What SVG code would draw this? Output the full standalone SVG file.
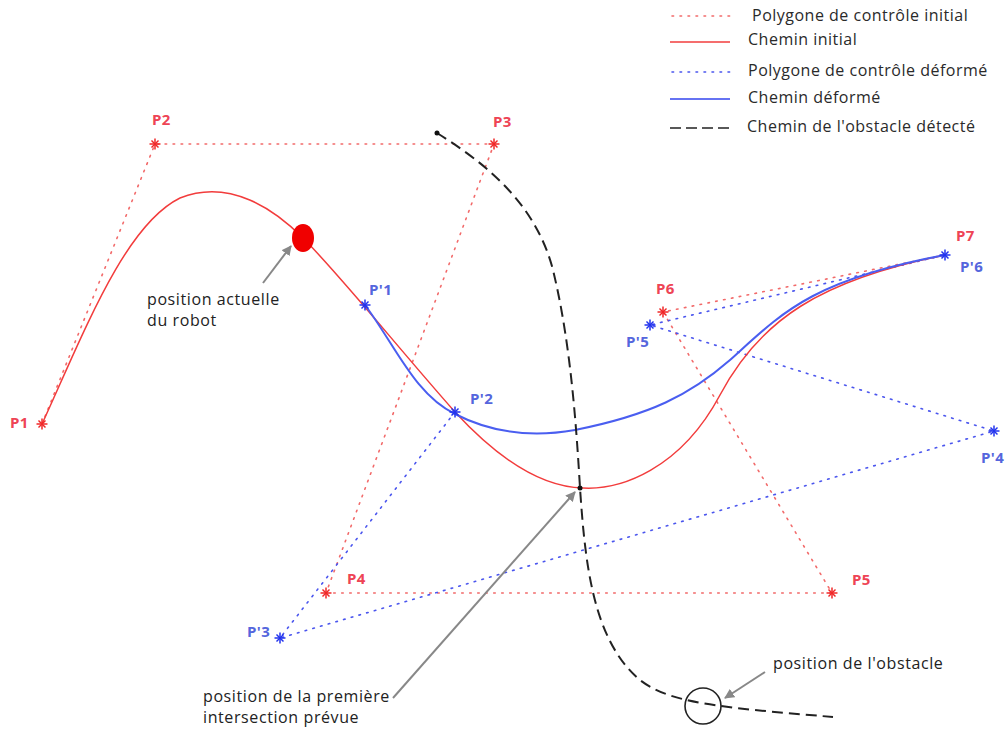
<svg xmlns="http://www.w3.org/2000/svg" width="1006" height="729" viewBox="0 0 1006 729">
<style>
text{font-family:"Open Sans","Liberation Sans",sans-serif}
.lg{font-size:16px;letter-spacing:0.5px;fill:#2a2a2a}
.ann{font-size:16px;letter-spacing:0.6px;fill:#222}
.lr{font-size:15px;font-weight:bold;letter-spacing:0.4px;fill:#ee4455}
.lb{font-size:15px;font-weight:bold;letter-spacing:0.4px;fill:#5566dd}
.pr{fill:none;stroke:#f26a6a;stroke-width:1.6;stroke-dasharray:1.6 6.4;stroke-linecap:round}
.pb{fill:none;stroke:#4a55ee;stroke-width:1.6;stroke-dasharray:1.6 6.4;stroke-linecap:round}
.cr{fill:none;stroke:#f23c3c;stroke-width:1.5}
.cb{fill:none;stroke:#4a5ef0;stroke-width:2}
.ob{fill:none;stroke:#222;stroke-width:2;stroke-dasharray:11 6}
.ar{fill:none;stroke:#888;stroke-width:2}
</style>
<defs>
<marker id="ah" viewBox="0 0 10 10" refX="9" refY="5" markerWidth="5" markerHeight="5" orient="auto" markerUnits="strokeWidth">
<path d="M0,0 L10,5 L0,10 z" fill="#888"/>
</marker>
<g id="sr" stroke="#f02828" stroke-width="1.5"><line x1="-5.5" y1="0" x2="5.5" y2="0"/><line x1="0" y1="-5.5" x2="0" y2="5.5"/><line x1="-3.5" y1="-3.5" x2="3.5" y2="3.5"/><line x1="-3.5" y1="3.5" x2="3.5" y2="-3.5"/></g>
<g id="sb" stroke="#2233ee" stroke-width="1.5"><line x1="-5.5" y1="0" x2="5.5" y2="0"/><line x1="0" y1="-5.5" x2="0" y2="5.5"/><line x1="-3.5" y1="-3.5" x2="3.5" y2="3.5"/><line x1="-3.5" y1="3.5" x2="3.5" y2="-3.5"/></g>
</defs>
<rect width="1006" height="729" fill="#fff"/>

<g id="legend">
<line x1="672" y1="16" x2="730" y2="16" class="pr"/>
<text x="752" y="21" class="lg">Polygone de contrôle initial</text>
<line x1="670" y1="42" x2="730" y2="42" stroke="#f23c3c" stroke-width="1.6"/>
<text x="748" y="45" class="lg">Chemin initial</text>
<line x1="672" y1="72" x2="730" y2="72" class="pb"/>
<text x="748" y="76" class="lg">Polygone de contrôle déformé</text>
<line x1="670" y1="99" x2="730" y2="99" stroke="#3344ee" stroke-width="1.6"/>
<text x="748" y="103" class="lg">Chemin déformé</text>
<line x1="670" y1="128" x2="730" y2="128" stroke="#222" stroke-width="1.6" stroke-dasharray="11 5"/>
<text x="747" y="132" class="lg">Chemin de l'obstacle détecté</text>
</g>

<g id="connectors">
<polyline class="pr" points="42,424 155,144 494,144 326,593 832,593 663,312 945,255"/>
<polyline class="pb" points="455,412 280,638 994,431 650,325 945,255"/>
<path class="cr" d="M42,424 C85,330 125,225 180,198 C230,178 275,210 303,238 C340,275 400,350 455,412 C490,450 535,487 583,488 C620,490 680,470 720,395 C760,320 820,280 945,255"/>
<path class="cb" d="M365,305 C395,345 415,395 455,414 C490,432 530,438 575,430 C650,415 690,395 730,360 C780,315 810,280 945,255"/>
<path class="ob" d="M437,133 C480,160 535,200 553,270 C570,340 576,420 580,488 C585,560 592,640 640,680 C670,703 715,707 833,717"/>
<circle cx="437" cy="133" r="2.5" fill="#111"/>
<circle cx="580" cy="488" r="2.5" fill="#111"/>
<line class="ar" x1="263" y1="283" x2="291" y2="246" marker-end="url(#ah)"/>
<line class="ar" x1="393" y1="698" x2="575" y2="492" marker-end="url(#ah)"/>
<line class="ar" x1="765" y1="672" x2="725" y2="698" marker-end="url(#ah)"/>
</g>

<g id="robot"><ellipse cx="303" cy="238" rx="11" ry="14" fill="#f00000"/></g>
<g id="obstacle"><circle cx="703" cy="706" r="18" fill="none" stroke="#222" stroke-width="1.6"/></g>

<g id="P1"><use href="#sr" x="42" y="424"/><text x="10" y="428" class="lr">P1</text></g>
<g id="P2"><use href="#sr" x="155" y="144"/><text x="152" y="125" class="lr">P2</text></g>
<g id="P3"><use href="#sr" x="494" y="144"/><text x="493" y="127" class="lr">P3</text></g>
<g id="P4"><use href="#sr" x="326" y="593"/><text x="347" y="584" class="lr">P4</text></g>
<g id="P5"><use href="#sr" x="832" y="593"/><text x="852" y="585" class="lr">P5</text></g>
<g id="P6"><use href="#sr" x="663" y="312"/><text x="656" y="294" class="lr">P6</text></g>
<g id="P7"><text x="956" y="241" class="lr">P7</text></g>
<g id="Pp1"><use href="#sb" x="365" y="305"/><text x="369" y="295" class="lb">P'1</text></g>
<g id="Pp2"><use href="#sb" x="455" y="412"/><text x="470" y="404" class="lb">P'2</text></g>
<g id="Pp3"><use href="#sb" x="280" y="638"/><text x="247" y="637" class="lb">P'3</text></g>
<g id="Pp4"><use href="#sb" x="994" y="431"/><text x="981" y="463" class="lb">P'4</text></g>
<g id="Pp5"><use href="#sb" x="650" y="325"/><text x="626" y="347" class="lb">P'5</text></g>
<g id="Pp6"><use href="#sb" x="945" y="255"/><text x="960" y="272" class="lb">P'6</text></g>

<g id="labels">
<text x="147" y="305" class="ann">position actuelle</text>
<text x="147" y="326" class="ann">du robot</text>
<text x="203" y="702" class="ann">position de la première</text>
<text x="203" y="723" class="ann">intersection prévue</text>
<text x="773" y="669" class="ann">position de l'obstacle</text>
</g>
</svg>
